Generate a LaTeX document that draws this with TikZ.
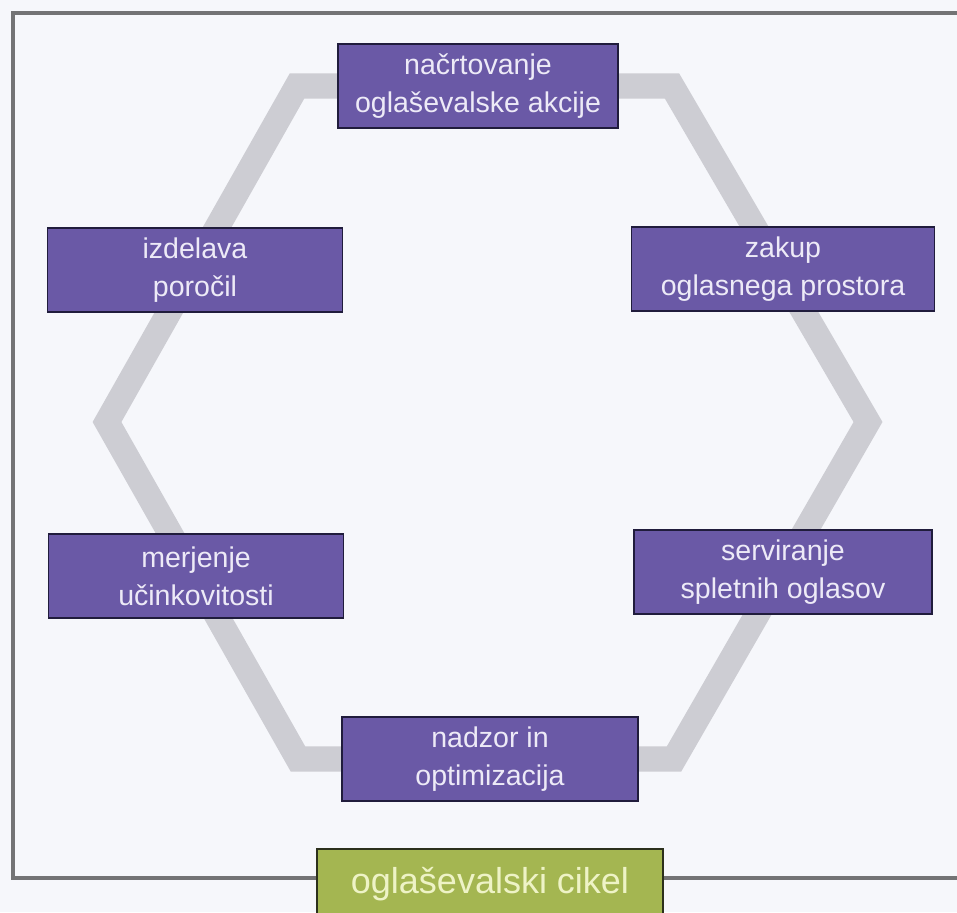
\documentclass[tikz,border=0pt]{standalone}
\usepackage{fontspec}
\setmainfont{Liberation Sans}
\definecolor{ozadje}{HTML}{F6F7FB}
\definecolor{okvir}{HTML}{737375}
\definecolor{sivo}{HTML}{CDCDD3}
\definecolor{vijola}{HTML}{6A59A6}
\definecolor{obroba}{HTML}{201C3C}
\definecolor{napis}{HTML}{EDEAF7}
\definecolor{zelena}{HTML}{A4B651}
\definecolor{zelenrob}{HTML}{2C301C}
\definecolor{zelennapis}{HTML}{EEF3C6}
\tikzset{
  korak/.style={draw=obroba,fill=vijola,line width=1.3pt,text=napis,align=center,
    minimum height=2.1cm,inner sep=0pt,font=\fontsize{20.3}{27}\selectfont},
  cikel/.style={draw=zelenrob,fill=zelena,line width=1.3pt,text=zelennapis,anchor=north,
    minimum width=8.65cm,inner ysep=0pt,text height=1.125cm,text depth=1.5cm,
    font=\fontsize{25.6}{30}\selectfont}
}
\begin{document}
\begin{tikzpicture}[x=0.025cm,y=-0.025cm]
\clip(0,0)rectangle(957,912);
\fill[color=ozadje](0,0)rectangle(957,912);
\draw[color=okvir,line width=2.8pt](13,13)rectangle(985,878);
% sestkotnik
\foreach \c/\x/\y in {a/297/86,b/672/86,c/868/422,d/674/759,e/298/759,f/107/422}
  \coordinate(\c)at(\x,\y);
\draw[color=sivo,line width=17.8pt](a)--(b)--(c)--(d)--(e)--(f)--cycle;
% koraki cikla
\foreach \n/\x/\y/\s/\t in {nacrt/478/86/7/{načrtovanje\\oglaševalske akcije},
    zakup/783/269/7.575/{zakup\\oglasnega prostora},
    serv/783/572/7.45/{serviranje\\spletnih oglasov},
    nadzor/490/759/7.4/{nadzor in\\optimizacija},
    merj/196/576/7.375/{merjenje\\učinkovitosti},
    izdel/195/270/7.375/{izdelava\\poročil}}
  \node[korak,minimum width=\s cm](\n)at(\x,\y){\t};
\node[cikel](cikel)at(490,848){oglaševalski cikel};
\end{tikzpicture}
\end{document}
